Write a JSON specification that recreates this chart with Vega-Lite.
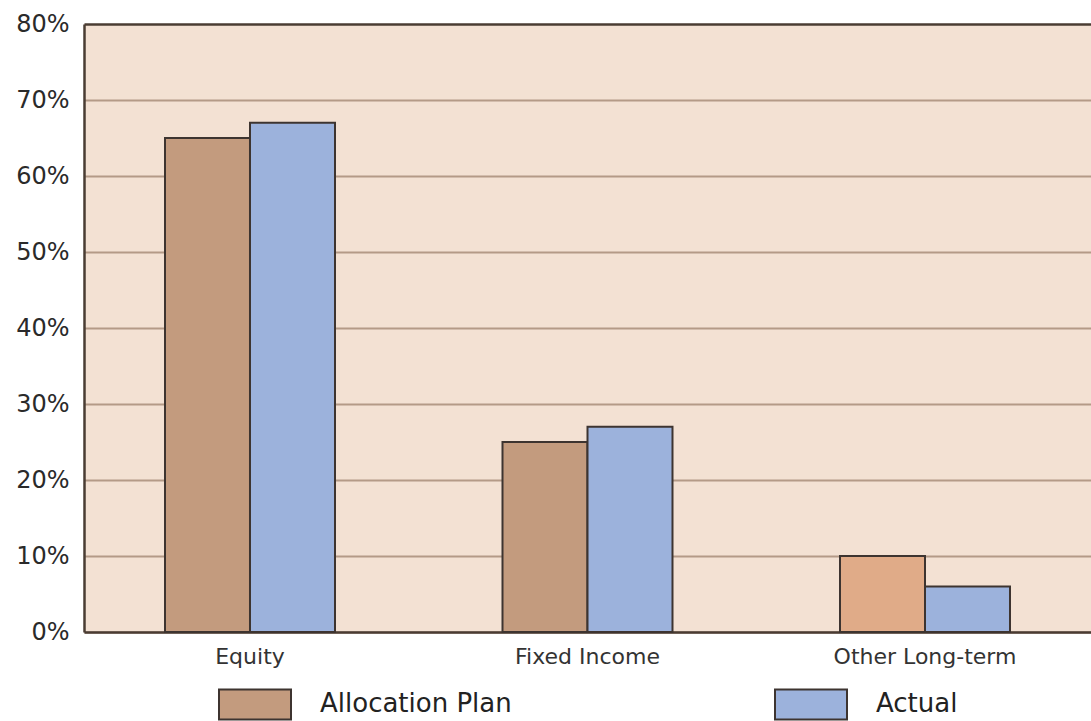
{
  "$schema": "https://vega.github.io/schema/vega-lite/v6.json",
  "width": 1007,
  "height": 608,
  "autosize": {"type": "none"},
  "padding": {"left": 84, "top": 24, "right": 0, "bottom": 89},
  "background": "#ffffff",
  "config": {
    "font": "DejaVu Sans",
    "view": {"fill": "#f3e1d3", "stroke": null}
  },
  "data": {
    "values": [
      {"category": "Equity", "series": "Allocation Plan", "value": 0.65},
      {"category": "Equity", "series": "Actual", "value": 0.67},
      {"category": "Fixed Income", "series": "Allocation Plan", "value": 0.25},
      {"category": "Fixed Income", "series": "Actual", "value": 0.27},
      {"category": "Other Long-term", "series": "Allocation Plan", "value": 0.10},
      {"category": "Other Long-term", "series": "Actual", "value": 0.06}
    ]
  },
  "mark": {"type": "bar", "stroke": "#3d3430", "strokeWidth": 2, "opacity": 1},
  "encoding": {
    "x": {
      "field": "category",
      "type": "nominal",
      "sort": ["Equity", "Fixed Income", "Other Long-term"],
      "scale": {"paddingInner": 0.4963, "paddingOuter": 0.24},
      "axis": {
        "title": null,
        "labelAngle": 0,
        "labelFontSize": 22,
        "labelColor": "#333333",
        "labelPadding": 14,
        "labelLimit": 400,
        "ticks": false,
        "domainColor": "#4a3c33",
        "domainWidth": 2.5
      }
    },
    "xOffset": {"field": "series", "type": "nominal", "sort": ["Allocation Plan", "Actual"]},
    "y": {
      "field": "value",
      "type": "quantitative",
      "scale": {"domain": [0, 0.8], "nice": false},
      "axis": {
        "title": null,
        "format": ".0%",
        "values": [0, 0.1, 0.2, 0.3, 0.4, 0.5, 0.6, 0.7, 0.8],
        "labelFontSize": 24,
        "labelColor": "#2a2a2a",
        "labelPadding": 15,
        "ticks": false,
        "domainColor": "#4a3c33",
        "domainWidth": 2.5,
        "grid": true,
        "gridColor": {"condition": {"test": "datum.value >= 0.8", "value": "#4a3c33"}, "value": "#b49a87"},
        "gridWidth": {"condition": {"test": "datum.value >= 0.8", "value": 2.5}, "value": 2},
        "gridOpacity": 1
      }
    },
    "color": {
      "condition": {
        "test": "datum.category === 'Other Long-term' && datum.series === 'Allocation Plan'",
        "value": "#e0ab88"
      },
      "field": "series",
      "type": "nominal",
      "sort": ["Allocation Plan", "Actual"],
      "scale": {"domain": ["Allocation Plan", "Actual"], "range": ["#c39b7e", "#9cb2dc"]},
      "legend": {
        "title": null,
        "orient": "none",
        "direction": "horizontal",
        "legendX": 134,
        "legendY": 643,
        "symbolType": "M-1,-0.4167H1V0.4167H-1Z",
        "symbolSize": 5184,
        "symbolStrokeColor": "#3d3430",
        "symbolStrokeWidth": 2,
        "symbolOpacity": 1,
        "labelFontSize": 26,
        "labelColor": "#222222",
        "labelOffset": 28,
        "labelLimit": 400,
        "columnPadding": 259,
        "padding": 0
      }
    }
  }
}
